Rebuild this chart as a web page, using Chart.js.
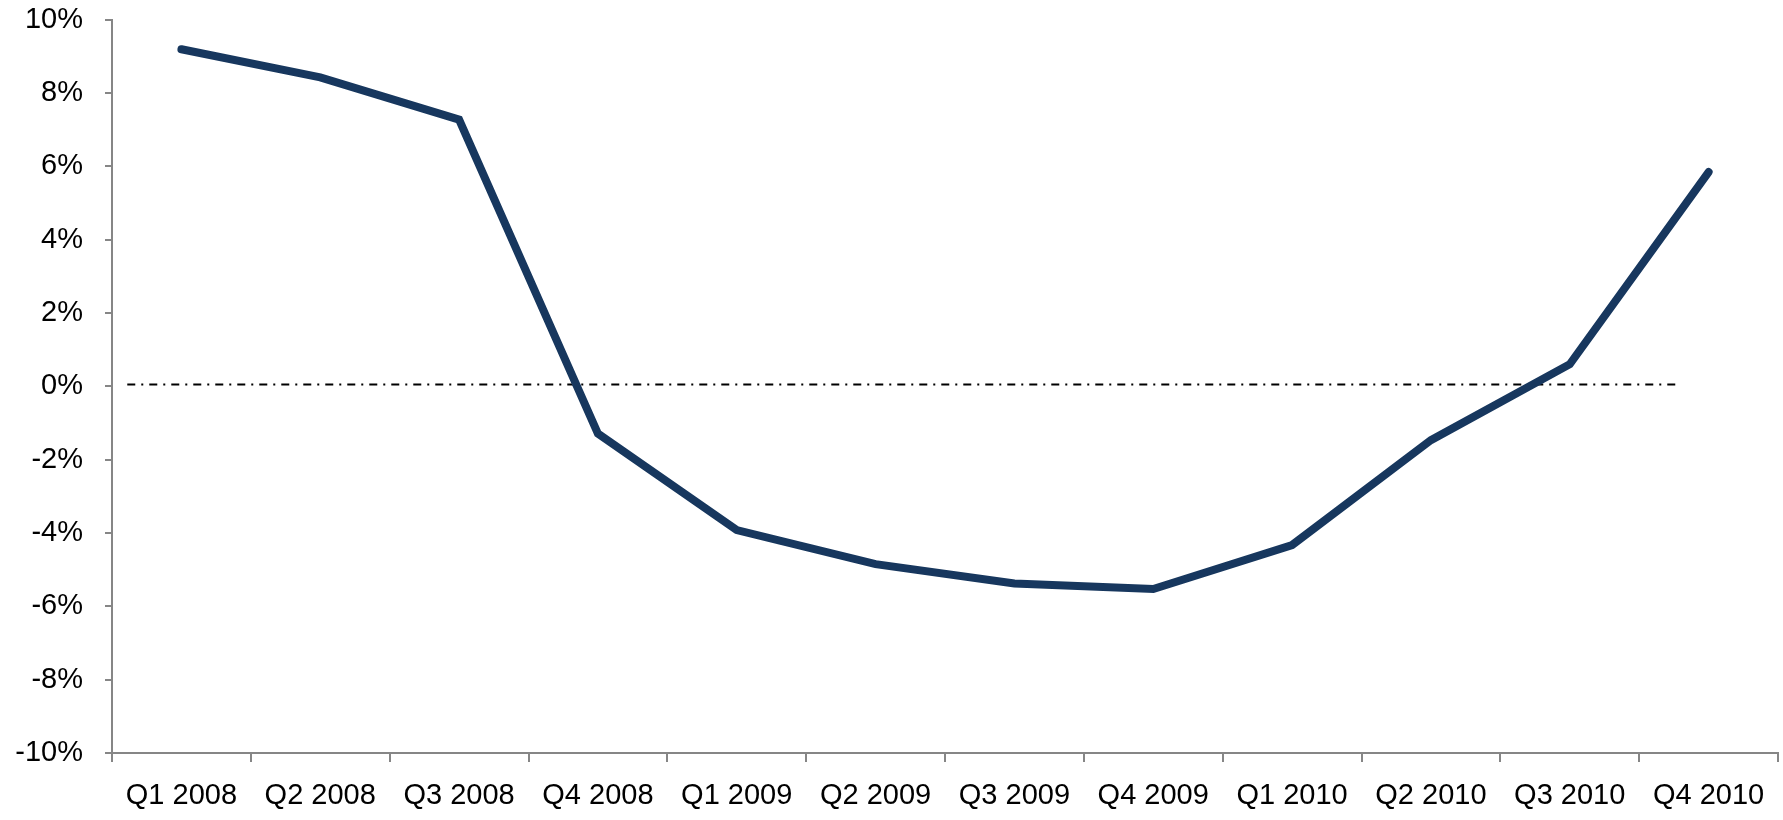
<!DOCTYPE html>
<html>
<head>
<meta charset="utf-8">
<script src="https://cdn.jsdelivr.net/npm/chart.js@4"></script>
<style>
  html, body { margin: 0; padding: 0; background: #fff; }
  #wrap { width: 1783px; height: 820px; }
</style>
</head>
<body>
<div id="wrap"><canvas id="chart" width="1783" height="820"></canvas></div>
<script>
const quarters = ["Q1 2008", "Q2 2008", "Q3 2008", "Q4 2008", "Q1 2009", "Q2 2009",
  "Q3 2009", "Q4 2009", "Q1 2010", "Q2 2010", "Q3 2010", "Q4 2010"];
const growth = [9.19, 8.42, 7.27, -1.29, -3.92, -4.85, -5.38, -5.53, -4.33, -1.47, 0.6, 5.84];
const yTicks = [-10, -8, -6, -4, -2, 0, 2, 4, 6, 8, 10];
// reference line near 0%, start/end given in category units
const zeroLine = { value: 0.05, from: -0.39, to: 10.76 };

const axisGray = "#868686";
const fontFamily = "'Liberation Sans', Arial, sans-serif";

const zeroLinePlugin = {
  id: "zeroLine",
  beforeDatasetsDraw: (chart) => {
    const { ctx, scales } = chart;
    const y = scales.y.getPixelForValue(zeroLine.value);
    const x1 = scales.x.getPixelForValue(zeroLine.from);
    const x2 = scales.x.getPixelForValue(zeroLine.to);
    ctx.save();
    ctx.strokeStyle = "#000";
    ctx.lineWidth = 2;
    ctx.setLineDash([8, 6, 2, 6]);
    ctx.beginPath();
    ctx.moveTo(x1, y);
    ctx.lineTo(x2, y);
    ctx.stroke();
    ctx.restore();
  },
};

const chart = new Chart(document.getElementById("chart"), {
  type: "line",
  data: {
    labels: quarters,
    datasets: [
      {
        data: growth,
        borderColor: "#17375E",
        borderWidth: 8,
        borderCapStyle: "round",
        tension: 0,
        pointRadius: 0,
        pointHoverRadius: 0,
      },
    ],
  },
  options: {
    responsive: false,
    animation: false,
    layout: { padding: { top: 0, right: 5, left: 0, bottom: 0 } },
    plugins: {
      legend: { display: false },
      tooltip: { enabled: false },
    },
    scales: {
      x: {
        offset: true,
        grid: {
          offset: true,
          drawOnChartArea: false,
          drawTicks: true,
          tickLength: 9,
          color: axisGray,
          lineWidth: 2,
        },
        border: { display: true, color: axisGray, width: 2 },
        ticks: {
          color: "#000",
          font: { family: fontFamily, size: 29 },
          padding: 17,
          maxRotation: 0,
          autoSkip: false,
        },
        afterFit: (scale) => { scale.height = 67; },
      },
      y: {
        min: -10,
        max: 10,
        afterBuildTicks: (scale) => {
          scale.ticks = yTicks.map((v) => ({ value: v }));
        },
        grid: {
          drawOnChartArea: false,
          drawTicks: true,
          tickLength: 7,
          color: axisGray,
          lineWidth: 2,
        },
        border: { display: true, color: axisGray, width: 2 },
        ticks: {
          color: "#000",
          font: { family: fontFamily, size: 29 },
          padding: 22,
          callback: (v) => v + "%",
        },
        afterFit: (scale) => {
          scale.width = 112;
          scale.paddingTop = 19.5;
          scale.paddingBottom = 0;
        },
      },
    },
  },
  plugins: [zeroLinePlugin],
});
</script>
</body>
</html>
